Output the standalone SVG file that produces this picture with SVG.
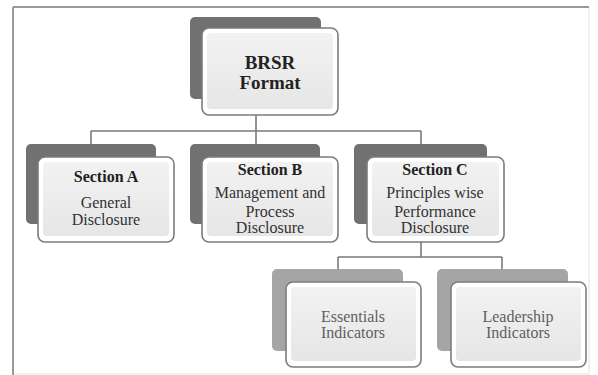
<svg xmlns="http://www.w3.org/2000/svg" width="598" height="375" viewBox="0 0 598 375">
<defs>
<linearGradient id="g" x1="0" y1="0" x2="0" y2="1">
<stop offset="0" stop-color="#f2f2f2"/>
<stop offset="1" stop-color="#e6e6e6"/>
</linearGradient>
</defs>
<style>
.sh{fill:#717171}
.sh2{fill:#a5a5a5}
.fo{fill:#ffffff;stroke:#7c7c7c;stroke-width:1.6}
.in{fill:url(#g)}
.t{font-family:"Liberation Serif","Times New Roman",serif;font-size:16px;fill:#333333;text-anchor:middle}
.b{font-weight:bold;fill:#222222}
.big{font-size:19px}
.l{fill:#5f5f5f}
.c{stroke:#7a7a7a;stroke-width:1.6;fill:none}
</style>
<rect x="0" y="0" width="598" height="375" fill="#ffffff"/>
<rect x="13" y="7" width="576" height="367" fill="#ffffff" stroke="#e2e2e2" stroke-width="1"/>
<line x1="13" y1="7" x2="589" y2="7" stroke="#9a9a9a" stroke-width="2"/>
<line x1="13" y1="7" x2="13" y2="375" stroke="#9a9a9a" stroke-width="2"/>
<g id="connectors">
<path class="c" d="M256 115 V131 M91 131 H421 M91 131 V145 M256 131 V145 M421 131 V145"/>
<path class="c" d="M421 242 V257 M338 257 H502 M338 257 V270 M502 257 V270" stroke="#9a9a9a"/>
</g>
<g id="brsr">
<rect class="sh" x="190" y="17" width="131" height="82" rx="5"/>
<rect class="fo" x="202" y="28" width="136" height="87" rx="7"/>
<rect class="in" x="207" y="33" width="126" height="76" rx="4"/>
<text class="t b big" x="270" y="69">BRSR</text>
<text class="t b big" x="270" y="89">Format</text>
</g>
<g id="secA">
<rect class="sh" x="26" y="144" width="130" height="80" rx="5"/>
<rect class="fo" x="38" y="157" width="136" height="85" rx="7"/>
<rect class="in" x="43" y="162" width="126" height="74" rx="4"/>
<text class="t b" x="106" y="182">Section A</text>
<text class="t" x="106" y="208">General</text>
<text class="t" x="106" y="225">Disclosure</text>
</g>
<g id="secB">
<rect class="sh" x="190" y="144" width="130" height="80" rx="5"/>
<rect class="fo" x="202" y="157" width="136" height="85" rx="7"/>
<rect class="in" x="207" y="162" width="126" height="74" rx="4"/>
<text class="t b" x="270" y="175">Section B</text>
<text class="t" x="270" y="198">Management and</text>
<text class="t" x="270" y="217">Process</text>
<text class="t" x="270" y="233">Disclosure</text>
</g>
<g id="secC">
<rect class="sh" x="354" y="144" width="133" height="80" rx="5"/>
<rect class="fo" x="367" y="157" width="137" height="85" rx="7"/>
<rect class="in" x="372" y="162" width="127" height="74" rx="4"/>
<text class="t b" x="435" y="175">Section C</text>
<text class="t" x="435" y="198">Principles wise</text>
<text class="t" x="435" y="217">Performance</text>
<text class="t" x="435" y="233">Disclosure</text>
</g>
<g id="essentials">
<rect class="sh2" x="272" y="269" width="131" height="82" rx="5"/>
<rect class="fo" x="286" y="282" width="135" height="85" rx="7" stroke="#a0a0a0"/>
<rect class="in" x="291" y="287" width="125" height="74" rx="4"/>
<text class="t l" x="353" y="322">Essentials</text>
<text class="t l" x="353" y="338">Indicators</text>
</g>
<g id="leadership">
<rect class="sh2" x="437" y="269" width="131" height="82" rx="5"/>
<rect class="fo" x="451" y="282" width="135" height="85" rx="7" stroke="#a0a0a0"/>
<rect class="in" x="456" y="287" width="125" height="74" rx="4"/>
<text class="t l" x="518" y="322">Leadership</text>
<text class="t l" x="518" y="338">Indicators</text>
</g>
</svg>
